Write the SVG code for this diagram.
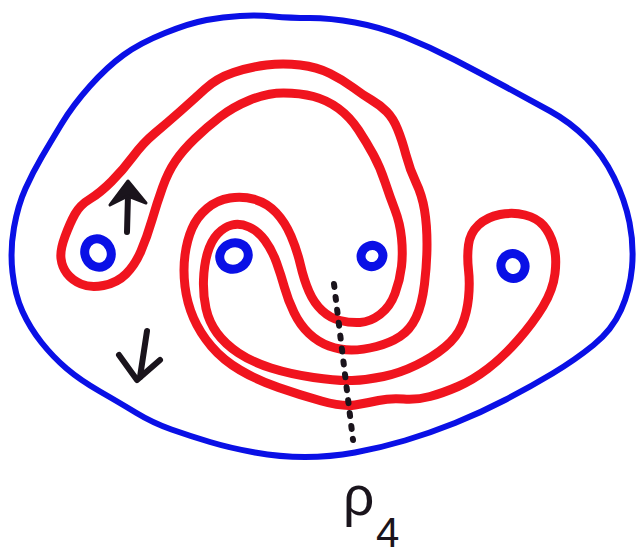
<svg xmlns="http://www.w3.org/2000/svg" width="637" height="559" viewBox="0 0 637 559">
<style>
.blue{fill:none;stroke:#0a10e6;stroke-width:6;stroke-linejoin:round}
.red{fill:none;stroke:#f0141e;stroke-width:9;stroke-linejoin:round}
.pt{fill:none;stroke:#0a10e6;stroke-width:9}
.ink{fill:none;stroke:#1a141c;stroke-width:6;stroke-linecap:round;stroke-linejoin:round}
.lbl{font-family:"Liberation Sans",Arial,sans-serif;fill:#1a141c}
</style>
<rect width="637" height="559" fill="#ffffff"/>
<g id="boundary">
<path class="blue" d="M12.5,272.5 Q10,250 14,227.5 Q18,205 25.5,188.5 Q33,172 41.5,157.5 Q50,143 61.5,124 Q73,105 90,86 Q107,67 123.5,55 Q140,43 165,33 Q190,23 206.5,20 Q223,17 240,16 Q257,15 273.5,16.5 Q290,18 310,18 Q330,18 355,22.5 Q380,27 405,37 Q430,47 455,60 Q480,73 505,86.5 Q530,100 550,111 Q570,122 586.5,138.5 Q603,155 614,177.5 Q625,200 629.5,222.5 Q634,245 632,267.5 Q630,290 621,310 Q612,330 593.5,345 Q575,360 552.5,373.5 Q530,387 505,400 Q480,413 455,423 Q430,433 405,440.5 Q380,448 355,452.5 Q330,457 305,457 Q280,457 255,452.5 Q230,448 210,442 Q190,436 171.5,429.5 Q153,423 136.5,413 Q120,403 100,391.5 Q80,380 66.5,368.5 Q53,357 41.5,342.5 Q30,328 22.5,311.5 Q15,295 12.5,272.5 Z"/>
</g>
<g id="curve">
<path class="red" d="M61,258.5 Q60,250 65,236.5 Q70,223 75,214 Q80,205 90,199 Q100,193 111.5,181.5 Q123,170 133,156.5 Q143,143 155,133 Q167,123 180,111.5 Q193,100 205,89 Q217,78 233.5,72.5 Q250,67 266.5,65 Q283,63 300,65 Q317,67 330,73.5 Q343,80 353,87.5 Q363,95 371.5,100 Q380,105 386.5,111.5 Q393,118 397.5,129 Q402,140 406,155 Q410,170 416,182.5 Q422,195 424.5,210 Q427,225 427,244 Q427,263 424.5,284 Q422,305 416,317.5 Q410,330 400,336.5 Q390,343 376.5,346.5 Q363,350 351.5,350 Q340,350 329,346 Q318,342 309,333.5 Q300,325 294,312.5 Q288,300 284.5,287.5 Q281,275 276.5,262.5 Q272,250 265,240.5 Q258,231 249,227 Q240,223 232,225 Q224,227 217.5,234 Q211,241 207.5,253 Q204,265 203.5,280 Q203,295 206,308.5 Q209,322 217,333 Q225,344 238.5,353 Q252,362 271,368 Q290,374 313.5,377.5 Q337,381 352,380.5 Q367,380 383.5,376.5 Q400,373 416.5,365 Q433,357 445,347 Q457,337 462,325 Q467,313 468.5,298 Q470,283 468.5,270 Q467,257 468.5,245 Q470,233 478.5,225 Q487,217 500,214.5 Q513,212 525,215 Q537,218 543.5,225.5 Q550,233 553.5,245 Q557,257 555,273.5 Q553,290 543,306.5 Q533,323 518,340 Q503,357 488,368.5 Q473,380 458,386.5 Q443,393 430,396.5 Q417,400 403.5,399 Q390,398 378.5,400.5 Q367,403 355,405 Q343,407 321.5,401 Q300,395 278.5,387.5 Q257,380 240,370 Q223,360 211.5,346.5 Q200,333 193.5,318 Q187,303 185,286.5 Q183,270 185,255 Q187,240 192,228.5 Q197,217 207,208.5 Q217,200 230,198 Q243,196 255,199.5 Q267,203 276,212.5 Q285,222 291,236 Q297,250 300.5,265 Q304,280 309,291.5 Q314,303 322,310.5 Q330,318 340,320.5 Q350,323 360,322.5 Q370,322 380,314.5 Q390,307 395,293.5 Q400,280 401.5,266.5 Q403,253 401.5,238 Q400,223 395,210 Q390,197 385,182 Q380,167 373.5,155 Q367,143 358.5,130 Q350,117 338.5,108.5 Q327,100 313.5,96.5 Q300,93 283.5,93 Q267,93 250,100 Q233,107 220,117 Q207,127 195,138.5 Q183,150 175.5,161 Q168,172 162.5,187.5 Q157,203 152,220 Q147,237 141,251 Q135,265 126,274 Q117,283 103.5,285.5 Q90,288 81,284 Q72,280 67,273.5 Q62,267 61,258.5 Z"/>
</g>
<g id="p1"><ellipse class="pt" cx="98" cy="253" rx="13" ry="14.5" transform="rotate(-25 98 253)"/></g>
<g id="p2"><ellipse class="pt" cx="234" cy="256" rx="14.5" ry="13" transform="rotate(-25 234 256)"/></g>
<g id="p3"><ellipse class="pt" cx="372" cy="256" rx="11" ry="10.5" transform="rotate(-25 372 256)"/></g>
<g id="p4"><ellipse class="pt" cx="513" cy="266" rx="12" ry="12.5" transform="rotate(-25 513 266)"/></g>
<g id="arrows">
<path class="ink" d="M127,232 L128,195"/>
<polygon points="110,205 128,181 146,203 128,196" fill="#1a141c" stroke="#1a141c" stroke-width="3" stroke-linejoin="round"/>
<path class="ink" d="M147,331 L140,377"/>
<path class="ink" stroke-width="7" d="M119,355 L137,380 L160,360"/>
</g>
<g id="cut">
<path d="M334,284 L353,440" fill="none" stroke="#1a141c" stroke-width="6" stroke-linecap="round" stroke-dasharray="3 10"/>
</g>
<g id="label">
<text class="lbl" x="343" y="515" font-size="55">ρ</text>
<text class="lbl" x="376" y="547" font-size="42">4</text>
</g>
</svg>
